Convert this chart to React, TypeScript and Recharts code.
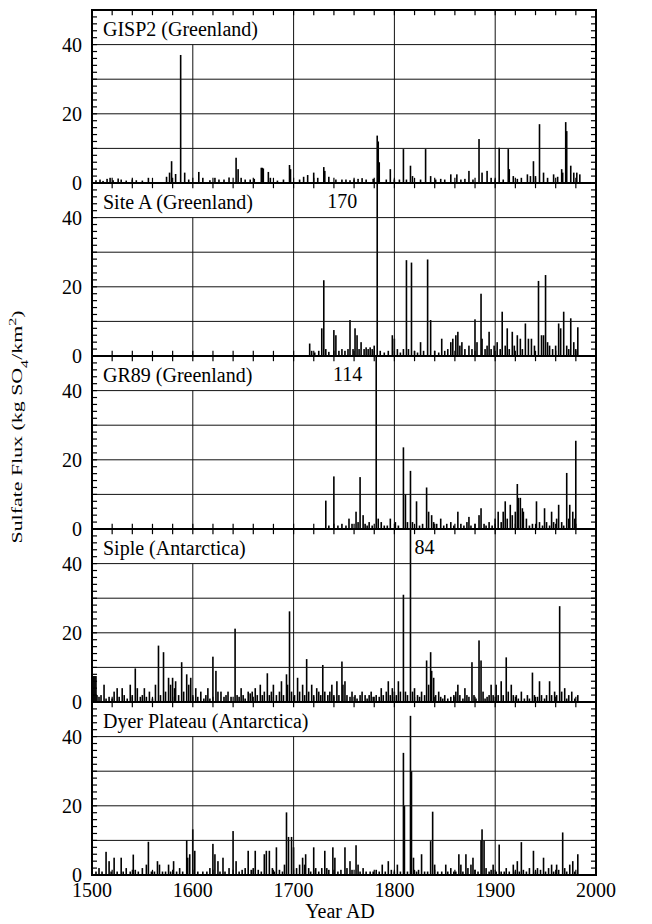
import {
  Bar,
  BarChart,
  LabelList,
  ReferenceArea,
  ReferenceLine,
  XAxis,
  YAxis,
} from "recharts";

type Point = [number, number]; // [year, sulfate flux]

// Annual sulfate flux (kg SO4/km2) for each ice core; years not listed are ~0
const GISP2: Point[] = [
  [1504, 0.8], [1508, 1], [1511, 0.6], [1515, 1.2], [1518, 1.5], [1521, 0.8], [1526, 1.3],
  [1529, 1], [1534, 0.7], [1540, 1], [1544, 0.8], [1550, 0.7], [1556, 1.5], [1574, 1.8],
  [1577, 3], [1579, 6.3], [1583, 2.6], [1588, 37], [1592, 3], [1596, 1], [1606, 3.2],
  [1610, 1.5], [1617, 0.8], [1622, 1.5], [1626, 1], [1631, 1], [1636, 1.6], [1643, 7.3],
  [1645, 4], [1648, 1.5], [1652, 1], [1657, 1], [1661, 1.2], [1668, 4.4], [1669, 4.4],
  [1670, 4.2], [1675, 3.2], [1677, 1.5], [1684, 0.7], [1690, 1], [1696, 5.2], [1697, 4],
  [1706, 1], [1710, 1.8], [1714, 2.3], [1720, 3], [1724, 1.5], [1730, 4.6], [1731, 3.5],
  [1735, 1.8], [1742, 1], [1748, 1], [1752, 1], [1756, 0.8], [1760, 1], [1764, 1.2],
  [1768, 1.4], [1772, 1], [1779, 1.2], [1783, 13.7], [1784, 12], [1785, 6], [1792, 1],
  [1796, 4], [1800, 1], [1805, 1], [1809, 9.8], [1812, 1], [1816, 5], [1818, 2], [1826, 1],
  [1831, 9.8], [1836, 2], [1841, 1], [1846, 1.2], [1850, 1], [1856, 2.5], [1862, 2.5],
  [1866, 1], [1870, 1.2], [1874, 3.5], [1878, 1], [1884, 12.7], [1887, 3], [1892, 3.5],
  [1896, 1.5], [1900, 1], [1904, 10.2], [1908, 1], [1913, 9.8], [1914, 4], [1918, 2],
  [1922, 1.2], [1926, 1.5], [1932, 2.5], [1935, 2], [1938, 6.3], [1940, 2], [1944, 17],
  [1948, 3], [1952, 1.5], [1958, 2.5], [1962, 1.8], [1966, 4], [1967, 3], [1970, 17.6],
  [1971, 15], [1975, 5], [1978, 3], [1981, 3], [1984, 2.5],
];

const SITE_A: Point[] = [
  [1716, 3.6], [1718, 1.5], [1721, 1], [1725, 1.5], [1728, 8], [1730, 21.9], [1732, 2],
  [1735, 1.2], [1740, 7.5], [1742, 6], [1745, 1.5], [1748, 2], [1751, 1.5], [1754, 2],
  [1756, 10.4], [1759, 2], [1761, 8], [1763, 6], [1765, 2], [1767, 4], [1770, 2],
  [1772, 2.5], [1774, 2], [1776, 2.5], [1778, 2], [1780, 3], [1783, 170], [1786, 1.5],
  [1790, 1], [1794, 1.5], [1798, 6], [1800, 5], [1803, 2], [1806, 1], [1809, 2],
  [1812, 27.7], [1814, 2], [1817, 27], [1820, 1.5], [1823, 1], [1826, 4], [1829, 1.5],
  [1833, 27.9], [1836, 10.4], [1840, 1.5], [1844, 1], [1847, 5], [1850, 1.5], [1853, 2],
  [1856, 4], [1858, 5], [1861, 6], [1863, 7], [1865, 3], [1867, 4], [1870, 2], [1874, 3],
  [1877, 2], [1880, 10.6], [1882, 4], [1886, 18], [1887, 5], [1890, 2], [1892, 3],
  [1894, 7], [1896, 2], [1899, 3], [1902, 4], [1905, 2], [1907, 12.8], [1910, 3],
  [1912, 8], [1914, 2], [1917, 7], [1919, 3], [1922, 6], [1925, 5], [1927, 2], [1930, 9.4],
  [1933, 5], [1936, 5], [1939, 3], [1943, 21.7], [1946, 6], [1948, 6], [1950, 23.4],
  [1952, 4], [1954, 3], [1957, 2], [1960, 3], [1963, 9.4], [1965, 8], [1968, 12.8],
  [1971, 3], [1973, 2], [1975, 10.9], [1978, 4], [1980, 2], [1982, 8.3],
];

const GR89: Point[] = [
  [1732, 8.2], [1735, 1], [1740, 15.2], [1744, 1], [1748, 1.5], [1752, 1], [1755, 3],
  [1758, 1.5], [1762, 5], [1764, 2], [1766, 15], [1769, 4], [1771, 1.5], [1773, 1],
  [1775, 2], [1778, 1], [1782, 114], [1784, 3], [1787, 2], [1790, 1], [1793, 1], [1796, 3],
  [1801, 2], [1804, 1], [1809, 23.6], [1811, 10], [1813, 2], [1816, 16.8], [1818, 2],
  [1822, 8], [1825, 1], [1828, 1.5], [1832, 12], [1834, 5], [1837, 4], [1839, 2],
  [1842, 1.5], [1846, 3], [1849, 1], [1852, 1.5], [1856, 2], [1859, 1], [1863, 5],
  [1866, 1.5], [1869, 1], [1872, 2], [1874, 3.5], [1876, 1], [1880, 1.5], [1884, 4],
  [1886, 6], [1889, 1.5], [1891, 1], [1894, 2], [1897, 1], [1900, 3], [1903, 5], [1906, 2],
  [1908, 5], [1910, 8], [1912, 3], [1915, 7], [1917, 4], [1920, 5], [1922, 13], [1923, 9],
  [1925, 9], [1927, 6], [1928, 5], [1931, 3], [1934, 1], [1937, 1.5], [1941, 8], [1944, 2],
  [1947, 1], [1949, 6], [1951, 2], [1954, 1], [1956, 5], [1958, 2], [1961, 3], [1963, 7],
  [1966, 2], [1968, 1], [1971, 16.2], [1973, 3], [1974, 7], [1977, 5], [1979, 3],
  [1980, 25.5],
];

const SIPLE: Point[] = [
  [1500, 7.5], [1501, 7.5], [1502, 7.5], [1503, 7.5], [1504, 7.5], [1505, 2], [1507, 1.5],
  [1509, 2], [1512, 5], [1514, 1], [1517, 1.5], [1520, 1], [1522, 3], [1525, 4], [1527, 1.5],
  [1530, 4], [1532, 2], [1535, 1], [1538, 5], [1540, 2], [1543, 9.7], [1545, 4], [1548, 1.5],
  [1550, 2], [1552, 4], [1554, 1.5], [1557, 3], [1560, 1], [1563, 5], [1566, 16.3],
  [1568, 2], [1571, 14.4], [1573, 3], [1576, 7], [1578, 5], [1580, 7], [1582, 4], [1583, 6],
  [1586, 2], [1589, 11.5], [1591, 3], [1594, 8], [1596, 5], [1598, 7], [1600, 2], [1603, 4],
  [1605, 1.5], [1608, 3], [1611, 1], [1613, 2], [1615, 4], [1617, 1], [1620, 13.1],
  [1623, 9], [1625, 3], [1628, 3], [1631, 1.5], [1633, 2], [1635, 3], [1638, 1.5],
  [1642, 21.2], [1644, 2], [1646, 1.5], [1648, 4], [1650, 2], [1652, 1], [1655, 3],
  [1657, 2.5], [1659, 3], [1662, 4], [1664, 2], [1667, 5], [1669, 2], [1671, 3], [1674, 8.3],
  [1676, 2], [1678, 3], [1680, 5], [1683, 2], [1686, 3], [1688, 6], [1690, 2], [1693, 8],
  [1694, 5], [1696, 26.2], [1698, 3], [1701, 2], [1704, 7], [1706, 3], [1709, 5], [1711, 2],
  [1713, 12.4], [1715, 3], [1718, 5], [1720, 2], [1723, 4], [1725, 3], [1727, 2],
  [1729, 10.7], [1731, 3], [1734, 2], [1736, 3], [1738, 5], [1740, 2], [1743, 6], [1745, 2],
  [1748, 11.7], [1749, 5], [1751, 6], [1753, 2], [1756, 1.5], [1758, 3], [1761, 2],
  [1763, 1], [1766, 2], [1768, 3], [1771, 2], [1773, 1], [1775, 2], [1777, 3], [1779, 1.5],
  [1782, 2], [1785, 1.5], [1787, 4], [1789, 2], [1792, 3], [1794, 6], [1796, 2], [1798, 4],
  [1800, 3], [1802, 2], [1804, 6], [1806, 3], [1809, 31], [1811, 3], [1813, 2], [1816, 84],
  [1818, 3], [1820, 4], [1823, 2], [1825, 1.5], [1827, 3], [1830, 2], [1832, 12], [1834, 5],
  [1836, 14.4], [1837, 9], [1839, 7], [1841, 2], [1844, 3], [1846, 1.5], [1848, 1],
  [1850, 2], [1853, 1], [1856, 1.5], [1859, 2], [1861, 3], [1863, 5], [1865, 2], [1868, 1],
  [1870, 4], [1872, 2], [1874, 1.5], [1877, 11.5], [1879, 2], [1881, 1], [1884, 17.8],
  [1886, 12], [1888, 3], [1890, 1], [1892, 1.5], [1894, 2], [1896, 5], [1898, 2], [1901, 5],
  [1903, 2], [1906, 6], [1908, 2], [1911, 12.9], [1913, 3], [1916, 5], [1918, 2], [1921, 2],
  [1923, 1], [1926, 3], [1929, 1], [1932, 2], [1934, 1], [1937, 8.5], [1939, 2],
  [1942, 1.5], [1944, 6], [1946, 2], [1949, 1], [1951, 2], [1954, 6], [1956, 2], [1959, 3],
  [1961, 2], [1964, 27.7], [1966, 3], [1969, 4], [1971, 1], [1973, 2], [1976, 3], [1979, 1],
  [1982, 2],
];

const DYER: Point[] = [
  [1504, 1], [1507, 2], [1510, 1], [1514, 6.7], [1517, 4], [1519, 1], [1522, 5], [1525, 1],
  [1529, 5], [1531, 1], [1534, 2], [1538, 1], [1541, 5.9], [1543, 1.5], [1546, 1], [1550, 2],
  [1554, 3], [1556, 9.6], [1559, 1], [1562, 1], [1565, 4], [1567, 3], [1570, 1], [1573, 1],
  [1576, 3], [1578, 1], [1581, 4], [1584, 1], [1587, 2], [1590, 1], [1594, 10.1], [1595, 5],
  [1597, 6], [1600, 13.2], [1602, 7], [1605, 1], [1610, 1], [1614, 1], [1617, 2], [1620, 9],
  [1622, 6], [1625, 4], [1627, 1], [1630, 5], [1632, 1], [1636, 2], [1640, 12.7], [1643, 4],
  [1646, 1], [1649, 1.5], [1652, 2], [1655, 7], [1658, 1.5], [1660, 2], [1662, 7],
  [1665, 1.5], [1668, 1], [1671, 6], [1673, 7], [1676, 7], [1679, 2], [1681, 1], [1683, 8],
  [1686, 1.5], [1689, 1], [1691, 3], [1693, 18.1], [1695, 11], [1698, 11], [1700, 8],
  [1703, 2], [1706, 3], [1709, 5], [1711, 3], [1712, 6], [1715, 2], [1717, 1], [1720, 8],
  [1722, 2], [1725, 1], [1728, 2], [1731, 7], [1733, 2], [1735, 1.5], [1739, 8], [1741, 5],
  [1744, 1], [1747, 1.5], [1751, 8], [1753, 2], [1756, 4], [1758, 1.5], [1762, 8.6],
  [1764, 3], [1766, 1], [1769, 2], [1772, 1], [1776, 1], [1779, 1], [1782, 1.5], [1785, 1],
  [1788, 3], [1791, 1], [1794, 4], [1797, 1.5], [1800, 1], [1803, 3], [1806, 1],
  [1809, 35.3], [1810, 20], [1813, 1], [1816, 46], [1817, 30], [1819, 5], [1822, 1],
  [1824, 1.5], [1827, 6], [1830, 1], [1833, 1], [1836, 9.8], [1838, 18.3], [1840, 3],
  [1843, 1], [1847, 1], [1851, 3], [1853, 1], [1856, 2], [1859, 1], [1861, 1], [1864, 6],
  [1866, 3], [1868, 1], [1871, 6], [1873, 2], [1876, 3], [1878, 5], [1880, 1.5], [1883, 1],
  [1886, 10], [1887, 13.2], [1889, 10], [1891, 2], [1894, 1], [1896, 1.5], [1898, 3],
  [1901, 1], [1904, 8.8], [1906, 1], [1909, 1], [1911, 2], [1914, 1], [1918, 3], [1920, 1],
  [1922, 4], [1924, 1], [1926, 9.5], [1928, 1.5], [1931, 1], [1934, 2], [1938, 7],
  [1940, 1], [1942, 2], [1945, 1.5], [1948, 5], [1950, 1], [1953, 2], [1956, 3], [1958, 1],
  [1961, 3], [1963, 1.5], [1967, 12.3], [1969, 2], [1971, 1], [1974, 3], [1977, 4],
  [1979, 1], [1982, 6],
];

// axis ticks
const YEAR_DOMAIN: [number, number] = [1500, 2000];
const FLUX_DOMAIN: [number, number] = [0, 50];
const YEAR_TICKS = [
  1500, 1520, 1540, 1560, 1580, 1600, 1620, 1640, 1660, 1680, 1700, 1720, 1740,
  1760, 1780, 1800, 1820, 1840, 1860, 1880, 1900, 1920, 1940, 1960, 1980, 2000,
];
const YEAR_LABELS = [1500, 1600, 1700, 1800, 1900, 2000];
const FLUX_TICKS = [
  0, 2, 4, 6, 8, 10, 12, 14, 16, 18, 20, 22, 24, 26, 28, 30, 32, 34, 36, 38, 40, 42, 44, 46, 48, 50,
];
const FLUX_LABELS = [0, 20, 40];
const GRID_YEARS = [1600, 1700, 1800, 1900];
const GRID_FLUX = [10, 20, 30, 40];

// layout
const W = 652;
const H = 924;
const PLOT_LEFT = 92;
const PLOT_RIGHT = 596;
const PANEL_TOP = 10;
const PANEL_H = 173;
const PAD = 2;
const AXIS_H = 50;
const SPIKE_W = 1.6;
const SERIF = '"Liberation Serif", "Times New Roman", serif';
const INK = "#000";
// inward tick lengths, in axis units
const TICK_YEARS = 5;
const TICK_FLUX = 1.5;

// panel title, year where the title box ends (grid lines stop below it), side of off-scale value
const PANELS = [
  { title: "GISP2 (Greenland)", points: GISP2, titleEnd: 1660, peakDx: 0 },
  { title: "Site A (Greenland)", points: SITE_A, titleEnd: 1660, peakDx: -20 },
  { title: "GR89 (Greenland)", points: GR89, titleEnd: 1660, peakDx: -14 },
  { title: "Siple (Antarctica)", points: SIPLE, titleEnd: 1660, peakDx: 4 },
  { title: "Dyer Plateau (Antarctica)", points: DYER, titleEnd: 1730, peakDx: 0 },
];

const LeftTick = (props: any) => {
  const { x, y, payload } = props;
  const v = payload.value;
  if (!FLUX_LABELS.includes(v)) return <g />;
  return (
    <text x={x - 10} y={y} dy="0.35em" textAnchor="end" fontFamily={SERIF} fontSize={20} fill={INK}>
      {v}
    </text>
  );
};

const BottomTick = (props: any) => {
  const { x, y, payload } = props;
  const v = payload.value;
  if (!YEAR_LABELS.includes(v)) return <g />;
  return (
    <text x={x} y={y + 22} textAnchor="middle" fontFamily={SERIF} fontSize={20} fill={INK}>
      {v}
    </text>
  );
};

// each annual value is drawn as a thin vertical spike centred on its year
const Spike = (props: any) => {
  const { x, y, width, height } = props;
  if (!height || height <= 0) return <g />;
  return <rect x={x + width / 2 - SPIKE_W / 2} y={y} width={SPIKE_W} height={height} fill={INK} />;
};

// value written next to a spike that runs off the top of the panel
const makePeakLabel = (dx: number) => (props: any) => {
  const vb = props.viewBox ?? props;
  const value = Number(props.value);
  if (!(value > FLUX_DOMAIN[1])) return null;
  const cx = vb.x + vb.width / 2;
  const top = vb.y + vb.height - PANEL_H;
  return (
    <text
      x={cx + dx}
      y={top + 25}
      textAnchor={dx < 0 ? "end" : "start"}
      fontFamily={SERIF}
      fontSize={20}
      fill={INK}
    >
      {value}
    </text>
  );
};

const tickLine = { stroke: INK, strokeWidth: 1.2 };

const Panel = ({
  points,
  titleEnd,
  peakDx,
  last,
}: {
  points: Point[];
  titleEnd: number;
  peakDx: number;
  last: boolean;
}) => {
  const data = points.map(([year, flux]) => ({ year, flux }));
  const height = PAD + PANEL_H + (last ? AXIS_H : PAD);
  const [y0, y1] = FLUX_DOMAIN;
  const [x0, x1] = YEAR_DOMAIN;
  return (
    <BarChart
      width={W}
      height={height}
      data={data}
      margin={{ top: PAD, right: W - PLOT_RIGHT, bottom: last ? 0 : PAD, left: 0 }}
    >
      <XAxis
        dataKey="year"
        type="number"
        domain={YEAR_DOMAIN}
        allowDataOverflow
        ticks={YEAR_TICKS}
        interval={0}
        tickSize={0}
        tickMargin={0}
        tickLine={false}
        axisLine={false}
        height={last ? AXIS_H : 0}
        tick={last ? BottomTick : false}
      />
      <YAxis
        type="number"
        domain={FLUX_DOMAIN}
        allowDataOverflow
        ticks={FLUX_TICKS}
        interval={0}
        tickSize={0}
        tickMargin={0}
        tickLine={false}
        axisLine={false}
        width={PLOT_LEFT}
        tick={LeftTick}
      />

      {/* grid */}
      {GRID_FLUX.map((v) => (
        <ReferenceLine key={`h${v}`} y={v} stroke="#111" strokeWidth={1} />
      ))}
      {GRID_YEARS.map((yr) => (
        <ReferenceLine
          key={`v${yr}`}
          segment={[
            { x: yr, y: y0 },
            { x: yr, y: yr < titleEnd ? 40 : y1 },
          ]}
          stroke="#111"
          strokeWidth={1}
        />
      ))}

      {/* inward minor ticks on all four sides */}
      {FLUX_TICKS.map((v) => (
        <ReferenceLine
          key={`l${v}`}
          segment={[{ x: x0, y: v }, { x: x0 + TICK_YEARS, y: v }]}
          {...tickLine}
        />
      ))}
      {FLUX_TICKS.map((v) => (
        <ReferenceLine
          key={`r${v}`}
          segment={[{ x: x1 - TICK_YEARS, y: v }, { x: x1, y: v }]}
          {...tickLine}
        />
      ))}
      {YEAR_TICKS.map((yr) => (
        <ReferenceLine
          key={`b${yr}`}
          segment={[{ x: yr, y: y0 }, { x: yr, y: y0 + TICK_FLUX }]}
          {...tickLine}
        />
      ))}
      {YEAR_TICKS.map((yr) => (
        <ReferenceLine
          key={`t${yr}`}
          segment={[{ x: yr, y: y1 - TICK_FLUX }, { x: yr, y: y1 }]}
          {...tickLine}
        />
      ))}

      <Bar dataKey="flux" fill={INK} barSize={2} shape={Spike} isAnimationActive={false}>
        <LabelList dataKey="flux" content={makePeakLabel(peakDx)} />
      </Bar>

      {/* panel frame */}
      <ReferenceArea x1={x0} x2={x1} y1={y0} y2={y1} fill="none" fillOpacity={0} stroke={INK} strokeWidth={2} />
    </BarChart>
  );
};

export default function App() {
  return (
    <div
      style={{
        position: "absolute",
        left: 0,
        top: 0,
        width: W,
        height: H,
        background: "#fff",
        fontFamily: SERIF,
      }}
    >
      <style>{`.recharts-surface { overflow: visible; }`}</style>
      {PANELS.map((p, i) => (
        <div
          key={p.title}
          style={{ position: "absolute", left: 0, top: PANEL_TOP + i * PANEL_H - PAD }}
        >
          <Panel points={p.points} titleEnd={p.titleEnd} peakDx={p.peakDx} last={i === PANELS.length - 1} />
        </div>
      ))}
      <svg
        width={W}
        height={H}
        style={{ position: "absolute", left: 0, top: 0, pointerEvents: "none" }}
      >
        {PANELS.map((p, i) => (
          <text
            key={p.title}
            x={PLOT_LEFT + 11}
            y={PANEL_TOP + i * PANEL_H + 26}
            fontFamily={SERIF}
            fontSize={20}
            fill={INK}
          >
            {p.title}
          </text>
        ))}
        <text
          x={22}
          y={427}
          transform="rotate(-90 22 427)"
          textAnchor="middle"
          fontFamily={SERIF}
          fontSize={15}
          fill={INK}
          textLength={233}
          lengthAdjust="spacingAndGlyphs"
        >
          Sulfate Flux (kg SO
          <tspan baselineShift="sub" fontSize={11}>4</tspan>
          /km
          <tspan baselineShift="super" fontSize={11}>2</tspan>)
        </text>
        <text
          x={(PLOT_LEFT + PLOT_RIGHT) / 2 - 4}
          y={918}
          textAnchor="middle"
          fontFamily={SERIF}
          fontSize={20}
          fill={INK}
        >
          Year AD
        </text>
      </svg>
    </div>
  );
}
